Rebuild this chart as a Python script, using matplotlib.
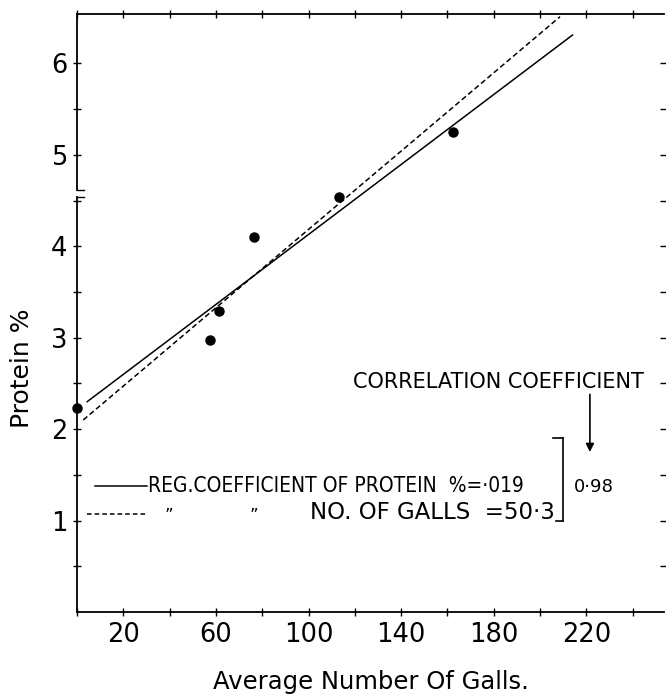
import matplotlib
matplotlib.use("Agg")
import matplotlib.pyplot as plt

# data
galls = [0, 57.5, 61.3, 76.6, 113, 162.5]
protein = [2.23, 2.98, 3.29, 4.10, 4.54, 5.25]

# fitted lines (end points)
solid_x = [4.4, 214]
solid_y = [2.30, 6.31]
dash_x = [2.7, 208.6]
dash_y = [2.10, 6.51]

xticks_major = [20, 60, 100, 140, 180, 220]
xticks_minor = [0, 40, 80, 120, 160, 200, 240]
yticks_major = [1, 2, 3, 4, 5, 6]
yticks_minor = [0.5, 1.5, 2.5, 3.5, 4.5, 5.5]

plt.rcParams['font.family'] = ['DejaVu Sans']

fig = plt.figure(figsize=(6.66, 6.95), dpi=100)
ax = fig.add_axes([0.1156, 0.1194, 0.8814, 0.8605])

ax.plot(solid_x, solid_y, color='black', lw=1.1)
ax.plot(dash_x, dash_y, color='black', lw=1.1, ls=(0, (3.5, 2)))
ax.plot(galls, protein, 'o', color='black', ms=6.5, clip_on=False, zorder=5)

ax.set_xlim(0, 253.5)
ax.set_ylim(0, 6.54)

ax.set_xticks(xticks_major)
ax.set_xticks(xticks_minor, minor=True)
ax.set_yticks(yticks_major)
ax.set_yticks(yticks_minor, minor=True)
ax.tick_params(axis='both', which='both', direction='inout', length=6, width=1.0, labelsize=18.5, pad=4)
ax.tick_params(axis='x', which='both', top=True)
ax.tick_params(axis='y', which='both', right=True)

ax.spines['right'].set_visible(False)
ax.spines['left'].set_visible(False)
for s in ['top', 'bottom']:
    ax.spines[s].set_linewidth(1.3)

# left axis drawn by hand with a break between 4.5 and 5
tr = ax.get_yaxis_transform()
ax.plot([0, 0], [0, 4.54], color='black', lw=1.3, transform=tr, clip_on=False)
ax.plot([0, 0], [4.61, 6.54], color='black', lw=1.3, transform=tr, clip_on=False)
ax.plot([0, 0.012], [4.54, 4.54], color='black', lw=1.0, transform=tr, clip_on=False)
ax.plot([0, 0.012], [4.61, 4.61], color='black', lw=1.0, transform=tr, clip_on=False)

ax.set_xlabel("Average Number Of Galls.", fontsize=17.5, labelpad=16)
ax.set_ylabel("Protein %", fontsize=18)
ax.yaxis.set_label_coords(-0.074, 0.408)

# legend drawn as in the original
ax.plot([7.8, 30.3], [1.38, 1.38], color='black', lw=1.1)
ax.text(30.8, 1.38, "REG.COEFFICIENT OF PROTEIN  %=·019", fontsize=15,
        va='center', ha='left', fontstretch='condensed')
ax.plot([4.3, 30.7], [1.07, 1.07], color='black', lw=1.1, ls=(0, (3, 2)))
ax.text(39.5, 1.05, "\u201d", fontsize=12, ha='center', va='center')
ax.text(76.5, 1.05, "\u201d", fontsize=12, ha='center', va='center')
ax.text(100.5, 1.09, "NO. OF GALLS  =50·3", fontsize=16.5, ha='left', va='center')

# bracket and correlation coefficient
ax.plot([210, 210], [1.0, 1.90], color='black', lw=1.2)
ax.plot([205.5, 210], [1.90, 1.90], color='black', lw=1.2)
ax.plot([207, 210], [1.0, 1.0], color='black', lw=1.2)
ax.text(223, 1.37, "0·98", fontsize=13, ha='center', va='center')
ax.text(119, 2.51, "CORRELATION COEFFICIENT", fontsize=15, ha='left', va='center')
ax.annotate("", xy=(221.5, 1.75), xytext=(221.5, 2.38),
            arrowprops=dict(arrowstyle='-|>', color='black', lw=1.2,
                            mutation_scale=12, shrinkA=0, shrinkB=0))

fig.savefig("out.png", dpi=100)
